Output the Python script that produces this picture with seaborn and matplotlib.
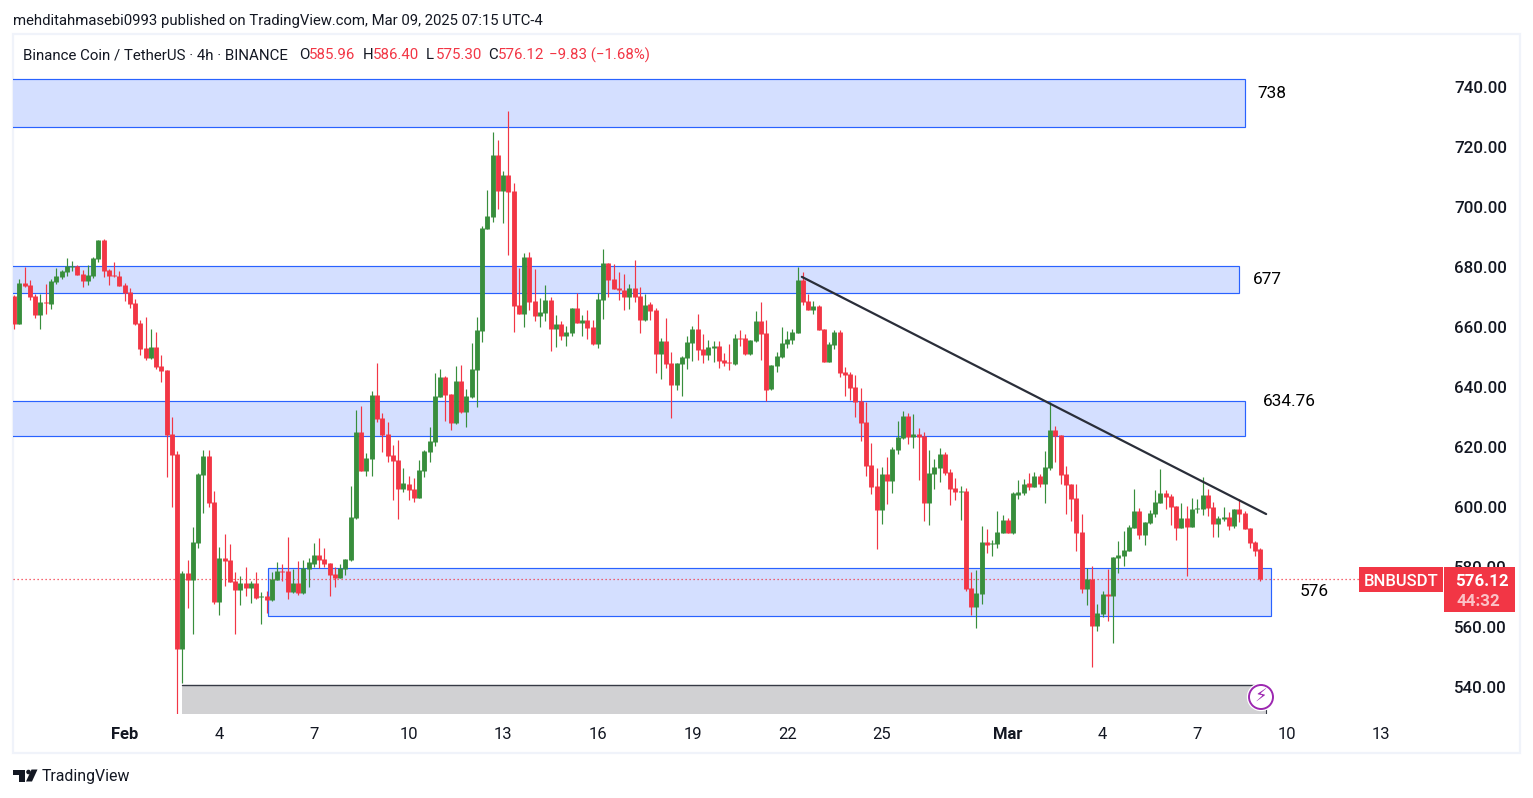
import numpy as np
import pandas as pd
import matplotlib
matplotlib.use("Agg")
import matplotlib.pyplot as plt
from matplotlib.patches import Rectangle, Circle, Polygon
import seaborn as sns

opens = [670.3,660.9,674.4,673.9,670.2,663.9,668.2,667.5,674.9,676.5,
678.2,680,680.2,677.5,675.2,676.9,682.5,688.9,678.9,677.2,
676.9,673.9,671.5,667.9,661.2,652.9,649.5,653.2,646.9,645.5,
624.2,617.5,552.5,577.9,575.5,587.9,610.5,616.9,601.5,568.2,
583,582.3,575.3,572.3,574.7,573,574.7,570,570.4,569,
575.6,578.6,578.6,571.6,574.7,571.3,579.4,581,584,582.6,
581.4,577.7,576.3,579.4,582.3,596.3,625,612,616,637.2,
629.6,624.3,617.3,615.7,605.9,607.6,605.9,602.9,611.8,618.2,
621.6,636.5,643.2,637.5,627.8,641.8,631.5,636.5,645.5,658.5,
692.5,696.5,717.2,705.2,710.5,705.2,667.2,664.2,683.2,668.5,
663.5,664.5,668.8,659.2,660.8,656.8,657.8,666.2,661.2,662.2,
659.8,654.2,668.8,681.2,675.8,672.8,672.2,669.8,672.9,670.2,
662.2,667.5,665.5,650.9,655.2,647.9,640.5,647.5,649.5,654.5,
659.2,652.5,650.5,652.9,653.5,648.9,648.2,647.5,656.2,656.2,
650.9,655.2,661.9,657.9,639.2,646.9,649.9,654.2,655.5,657.9,
675.5,668.5,665.5,666.9,659.2,648.2,653.9,658.2,644.9,644.2,
639.9,635.2,628.2,613.9,606.9,598.9,610.9,608.6,618.9,622.9,
630.2,623.2,624.2,623.6,601.2,610.9,612.9,617.6,611.6,606.2,
604.9,605.2,572.9,566.6,570.9,588.2,587.6,587.6,591.2,595.6,
591.2,603.9,604.6,607.9,606.6,610.2,607.6,612.9,625.6,623.9,
610.9,607.6,602.9,591.6,572.6,575.9,560.2,564.2,570.9,570.2,
582.9,583.6,585.2,592.9,598.6,590.6,594.6,597.6,601.2,604.6,
603.6,600.2,592.9,596.2,593.2,599.2,599.2,603.9,599.9,594.2,
595.9,596.6,593.6,599.2,597.9,592.9,588.2,585.96]

closes = [660.9,674.4,673.6,670,663.9,668.2,667.9,675.2,676.9,678.5,
680.1,680.2,677.2,675.2,677.2,682.9,688.9,678.5,676.9,676.9,
673.5,671.1,667.5,660.9,652.5,649.5,653.2,646.5,645.2,623.9,
617.2,552.5,577.9,575.5,588.2,610.9,616.9,601.2,568.2,582.9,
581.8,575.1,572.3,574.7,573,574.7,569.7,570.2,569,576,
578.6,578.4,571.6,574.7,571.3,579.7,581.6,584,582.3,581,
577.4,576.3,579.7,582.6,596.6,625,612,616.2,637.2,629.4,
623.9,616.9,615.3,605.9,608,605.7,602.9,612.3,618.5,621.8,
636.8,643.2,637.2,627.8,641.8,631.5,636.8,645.8,658.8,692.8,
696.8,717.2,705.2,710.5,704.8,666.8,664.2,683.2,668.2,663.5,
664.8,668.8,659.2,660.8,656.8,658.2,666.2,661.2,662.2,659.5,
654.2,669.2,681.2,675.5,672.5,672.2,669.8,672.9,669.9,662.2,
667.2,665.2,650.9,655.2,647.5,640.5,647.9,649.9,654.9,659.2,
652.2,650.5,653.2,653.5,648.5,647.9,647.9,656.2,655.9,650.9,
655.5,661.9,657.5,638.9,647.2,650.2,654.5,655.9,658.2,675.5,
668.2,665.5,666.9,658.9,648.2,654.2,658.2,644.6,643.9,639.6,
634.9,627.9,613.6,606.6,598.9,610.9,608.6,619.2,623.2,630.2,
623.2,624.2,623.2,601.2,611.2,613.2,617.6,611.2,605.9,604.9,
605.2,572.6,566.6,571.2,588.2,587.2,587.9,591.6,595.6,591.2,
604.6,604.9,607.6,606.6,610.2,607.6,613.2,625.6,623.6,610.6,
607.2,602.6,591.2,572.6,575.9,560.2,564.6,570.9,570.2,583.2,
583.9,585.6,593.2,598.6,590.6,594.9,597.9,601.6,604.6,603.2,
599.9,592.9,596.2,593.2,599.2,599.6,603.9,599.6,594.2,596.2,
596.6,593.6,599.2,597.6,592.6,587.9,585.2,576.12]

highs = [670.5,675.8,680,675.5,670.9,671,674.2,675.9,679.5,678.9,
682.9,681.9,680.5,678.9,680.5,683.2,688.9,689.2,679.2,681.5,
678.5,674.5,672.9,669.2,662.2,663.2,659.2,658.2,650.5,645.5,
629.9,618.5,578.5,582.2,593.2,611.2,618.9,618.9,605.2,586.5,
591,587.7,578.3,577,580,575.3,578.3,571.6,572,578.3,
581.6,581,590,579.4,581.9,582.3,583,588,589.6,586.3,
581.4,580,581,582.6,607,632.3,633.6,618,638.6,647.9,
631.3,628.3,620.6,622.3,612.9,610.3,609.6,615.7,618.8,626.5,
644.5,645.8,643.5,637.5,646.8,647.2,639.2,654.5,663.2,693.5,
705.5,724.8,722.2,711.8,731.8,707.8,679.5,684.5,684.8,679.2,
669.5,673.8,669.8,663.8,661.8,660.2,666.2,671.2,663.8,665.5,
662.2,671.2,685.8,681.2,680.8,678.2,677.5,674.2,682.2,673.2,
670.9,668.2,666.2,656.2,662.9,651.5,647.9,650.2,656.9,660.2,
664.2,657.5,655.5,655.2,655.2,651.2,654.2,657.5,658.9,657.5,
655.5,665.2,668.2,662.2,647.2,651.5,659.9,658.5,659.2,679.9,
678.2,670.9,668.5,667.2,659.2,654.9,658.9,659,646.6,644.9,
643.9,639.6,634.9,621.2,612.9,613.2,616.6,619.9,628.6,631.9,
631.2,630.9,626.2,624.9,618.9,615.9,619.6,618.2,612.6,609.6,
606.9,606.2,578.2,578.9,593.6,592.6,588.9,598.6,597.2,596.2,
604.9,608.9,609.2,611.2,611.6,610.9,618.6,634.9,626.9,623.9,
613.6,607.6,607.6,597.6,579.6,580.2,567.6,571.9,579.2,583.2,
588.6,591.9,593.9,605.9,599.6,594.9,598.9,605.6,612.6,605.6,
604.2,600.2,601.2,600.2,602.9,602.6,609.9,605.9,601.6,596.9,
599.9,598.2,599.2,602.6,598.6,592.9,588.6,586.4]

lows = [659.2,660.9,673.2,669,663,659.2,664.2,665.9,674.2,675.9,
676.9,678.5,677.2,673.2,673.9,676.2,681.5,676.5,673.9,676.5,
673.5,668.5,666.2,660.5,650.5,648.9,649.2,645.9,641.5,609.9,
599.9,530.9,541.2,566.2,557.5,586.2,597.9,599.9,567.5,563.9,
573.7,575.1,557.6,567.4,570.4,568,569.3,561,564.6,568.6,
575.6,575.3,569.3,571.3,570.7,571,573.3,580,579.7,580,
570.4,573.3,576.3,577.4,581.9,595.9,612,610.3,610.3,628.3,
618.3,615,602.4,596,605,602.4,601.7,602.9,609.8,614.8,
620.3,636.5,628.5,625.5,627.5,631.2,626.5,636.2,633.2,654.8,
692.5,694.8,699.2,694.5,683.8,658.2,664.2,659.8,665.5,661.8,
659.8,661.8,651.8,653.2,655.5,653.5,656.8,661.2,656.8,655.8,
653.8,652.8,662.5,669.8,672.5,668.8,665.5,665.9,668.2,657.9,
661.9,662.2,644.5,642.5,646.2,629.5,638.9,636.9,645.9,648.5,
648.9,647.9,648.9,648.2,646.2,646.9,645.5,647.2,653.5,650.5,
650.5,654.9,648.9,635.2,638.9,644.9,649.5,652.9,654.2,657.9,
667.2,665.5,664.2,658.9,648.2,648.2,652.6,643.2,636.9,635.6,
629.9,621.9,610.2,604.2,585.9,594.2,600.9,604.6,617.6,622.6,
620.9,619.6,608.9,595.2,593.9,605.9,608.2,610.6,600.6,602.2,
595.6,571.9,563.9,559.6,567.6,584.6,583.6,586.2,591.2,591.2,
590.9,602.6,603.9,605.6,606.6,606.6,601.2,612.2,614.9,607.6,
597.6,595.2,585.2,571.2,567.2,546.6,558.6,563.2,561.9,554.6,
577.9,580.2,585.2,592.9,589.2,587.2,594.2,596.6,601.2,599.2,
593.9,588.9,592.9,576.9,593.2,597.9,597.2,596.9,589.9,589.9,
595.2,592.2,592.9,594.9,592.6,586.2,583.6,575.3]

assert len(opens) == len(closes) == len(highs) == len(lows) == 238

xtick_pos = [21, 39, 57, 75, 93, 111, 129, 147, 165, 189, 207, 225, 242, 260]
xtick_lab = ["Feb", "4", "7", "10", "13", "16", "19", "22", "25", "Mar", "4", "7", "10", "13"]
ytick_vals = [540, 560, 580, 600, 620, 640, 660, 680, 700, 720, 740]

# zones: x start, x end (candle index), price low, price high, label
zone_x0 = [-2, -2, -2, 48.2]
zone_x1 = [234.0, 233.0, 234.0, 239.0]
zone_lo = [726.5, 671.2, 623.5, 563.6]
zone_hi = [742.5, 680.2, 635.3, 579.5]
zone_lab = ["738", "677", "634.76", "576"]
trend_x = [149.8, 238.1]
trend_y = [676.6, 597.6]
grey_x = [31.9, 238.1]
grey_y = [530.0, 540.8]
last_price = 576.12

W, H = 1533, 798
RED, GREEN = "#F23645", "#388E3C"
BLUE, BLUEFILL = "#2962FF", "#D4DFFF"
DARK = "#131722"
FONT = ["Roboto", "DejaVu Sans"]

sns.set_theme(style="white")
plt.rcParams["font.family"] = FONT

fig = plt.figure(figsize=(W / 100, H / 100), dpi=100, facecolor="white")
ax = fig.add_axes([13 / W, 1 - 714 / H, (1445 - 13) / W, (714 - 72) / H])
ax.patch.set_alpha(0)

def fx(x):
    return x / W

def fy(y):
    return 1 - y / H

# frame
fig.add_artist(Rectangle((fx(12.5), fy(753)), 1507.5 / W, 719 / H, transform=fig.transFigure,
                         fill=False, ec="#F0F3FA", lw=1.6, zorder=0))

# zones
for x0, x1, lo, hi in zip(zone_x0, zone_x1, zone_lo, zone_hi):
    ax.add_patch(Rectangle((x0, lo), x1 - x0, hi - lo, fc=BLUEFILL, ec=BLUE, lw=0.85, zorder=1))
ax.add_patch(Rectangle((grey_x[0], grey_y[0]), grey_x[1] - grey_x[0], grey_y[1] - grey_y[0],
                       fc="#D1D1D3", ec="none", zorder=1))
ax.plot(grey_x, [grey_y[1]] * 2, color="#363A45", lw=1.0, zorder=1.2)
ax.plot([grey_x[1]] * 2, [grey_y[0], 532.5], color="#363A45", lw=0.8, zorder=1.2)

# candles
idx = np.arange(len(opens))
direction = np.where(np.array(closes) >= np.array(opens), "up", "down")
wicks = pd.DataFrame({"i": np.r_[idx, idx], "price": np.r_[highs, lows], "dir": np.r_[direction, direction]})
bodies = pd.DataFrame({"i": np.r_[idx, idx], "price": np.r_[opens, closes], "dir": np.r_[direction, direction]})
pal = {"up": GREEN, "down": RED}
sns.lineplot(data=wicks, x="i", y="price", hue="dir", palette=pal, units="i", estimator=None,
             sort=False, lw=0.85, legend=False, ax=ax, solid_capstyle="butt", zorder=3)
sns.lineplot(data=bodies, x="i", y="price", hue="dir", palette=pal, units="i", estimator=None,
             sort=False, lw=3.5, legend=False, ax=ax, solid_capstyle="butt", zorder=3.5)

# trend line and last price
ax.plot(trend_x, trend_y, color="#2A2E39", lw=1.6, zorder=4)
ax.axhline(last_price, xmax=(1360 - 13) / (1445 - 13), color=RED, lw=0.9, ls=(0, (1, 2.2)), zorder=2.5)

# pixel x = 14.2 + 5.258 * index
ax.set_xlim((13 - 14.2) / 5.258, (1445 - 14.2) / 5.258)
ax.set_ylim(531.0, 744.83)
ax.set_xlabel("")
ax.set_ylabel("")
sns.despine(ax=ax, left=True, bottom=True)
ax.yaxis.tick_right()
ax.set_yticks(ytick_vals)
ax.set_yticklabels([f"{v:.2f}" for v in ytick_vals], fontsize=12.2, color=DARK, fontweight="medium", family=FONT)
ax.set_xticks(xtick_pos)
labs = ax.set_xticklabels(xtick_lab, fontsize=12, color=DARK, family=FONT)
for l, t in zip(labs, xtick_lab):
    if not t.isdigit():
        l.set_fontweight("bold")
ax.tick_params(axis="y", length=0, pad=6.6)
ax.tick_params(axis="x", length=0, pad=9.4)
ax.grid(False)

# zone labels
for (px, py), t in zip([(1257.5, 93), (1253, 279), (1263, 401.5), (1300, 591)], zone_lab):
    fig.text(fx(px), fy(py), t, fontsize=12.4, color="black", va="center", ha="left")

# header
fig.text(fx(13), fy(20.5), "mehditahmasebi0993 published on TradingView.com, Mar 09, 2025 07:15 UTC-4",
         fontsize=10.75, color=DARK, va="center")
hdr = [(23, "Binance Coin / TetherUS · 4h · BINANCE", DARK), (299, "O", DARK), (309, "585.96", RED),
       (363, "H", DARK), (373, "586.40", RED), (426, "L", DARK), (436, "575.30", RED),
       (488, "C", DARK), (497.5, "576.12", RED), (549, "−9.83 (−1.68%)", RED)]
for px, t, c in hdr:
    fig.text(fx(px), fy(55), t, fontsize=10.85, color=c, va="center")

# price labels
fig.add_artist(Rectangle((fx(1359), fy(592)), 83.5 / W, 25 / H, transform=fig.transFigure, fc=RED, ec="none", zorder=6))
fig.add_artist(Rectangle((fx(1444), fy(612)), 71 / W, 45 / H, transform=fig.transFigure, fc=RED, ec="none", zorder=6))
fig.text(fx(1401), fy(581), "BNBUSDT", fontsize=12, color="white", ha="center", va="center", zorder=7, fontweight="medium")
fig.text(fx(1482), fy(581), "576.12", fontsize=12.2, color="white", ha="center", va="center", zorder=7, fontweight="bold")
fig.text(fx(1478), fy(601), "44:32", fontsize=12.2, color="#FBC2C7", ha="center", va="center", zorder=7, fontweight="bold")

# lightning badge
fig.add_artist(Circle((1261, H - 697), 13.5, transform=None, fc="white", ec="white", zorder=6))
fig.add_artist(Circle((1261, H - 697), 12, transform=None, fc="white", ec="#9C27B0", lw=1.4, zorder=6.5))
fig.text(fx(1261), fy(697), "⚡", fontsize=13, color="#9C27B0", ha="center", va="center", zorder=7, family="DejaVu Sans")

# footer logo
logo = [[(13, 769.5), (25, 769.5), (25, 781.5), (19, 781.5), (19, 774.5), (13, 774.5)]]
logo.append([(31.5, 769.5), (37.5, 769.5), (32, 781.5), (26, 781.5)])
for p in logo:
    fig.add_artist(Polygon([(x, H - y) for x, y in p], transform=None, fc="#131722", ec="none"))
fig.add_artist(Circle((28.5, H - 772), 2.3, transform=None, fc="#131722", ec="none"))
fig.text(fx(42), fy(777), "TradingView", fontsize=11.4, color="#131722", va="center")

fig.savefig("out.png", dpi=100, facecolor="white")
